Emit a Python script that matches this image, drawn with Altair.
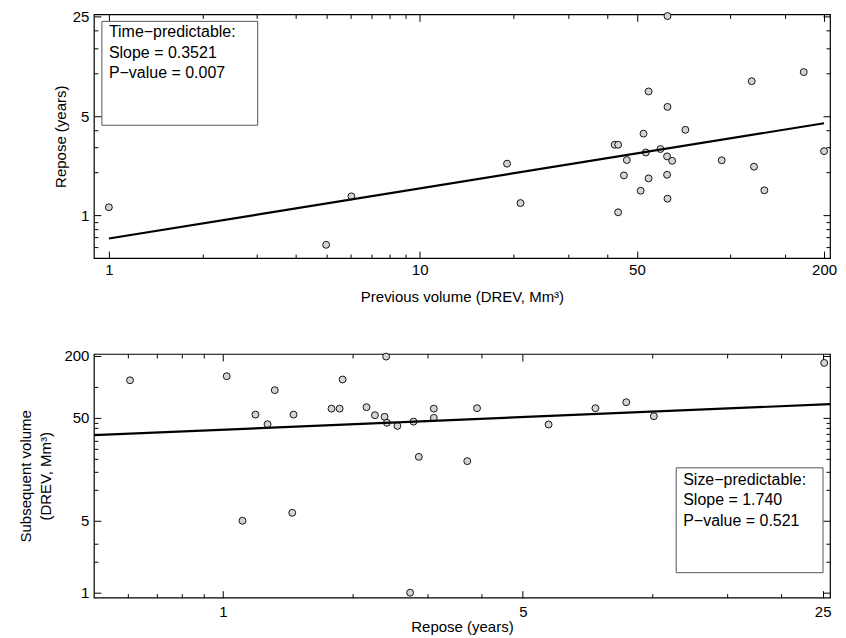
import altair as alt
import pandas as pd

# ---------------- data ----------------
# Top panel: previous volume (x) vs repose (y)
prev_volume = [1, 6.03, 5.0, 62.7, 172, 117, 54.5, 62.7, 71.6, 52.5, 42.4, 43.5, 59.5, 53.4,
               200, 62.5, 46.4, 64.9, 93.7, 19.1, 119, 45.4, 62.5, 54.5, 51.4, 128.5, 21.1, 62.7, 43.5]
repose_top = [1.14, 1.36, 0.62, 25.3, 10.2, 8.8, 7.45, 5.8, 4.0, 3.76, 3.14, 3.14, 2.93, 2.77,
              2.83, 2.60, 2.45, 2.42, 2.44, 2.31, 2.20, 1.91, 1.93, 1.82, 1.49, 1.50, 1.22, 1.31, 1.05]

# Bottom panel: repose (x) vs subsequent volume (y)
repose_bottom = [0.607, 1.02, 1.32, 1.19, 1.27, 1.46, 1.11, 1.45, 1.79, 1.87, 1.90, 2.16, 2.26, 2.38,
                 2.40, 2.41, 2.55, 2.78, 2.73, 2.86, 3.10, 3.10, 3.91, 3.71, 5.74, 7.38, 8.71, 10.1, 25.2]
subsequent_volume = [116, 127, 93, 53.8, 43.4, 53.8, 5.0, 5.98, 61.5, 61.5, 118, 63.5, 53.1, 51.2,
                     197, 44.8, 41.8, 46.0, 1.0, 20.9, 61.5, 50, 62.1, 19.0, 43.1, 62.1, 71, 51.9, 171]

# Fitted lines (end points)
fit_top_x = [1, 200]
fit_top_y = [0.687, 4.45]
fit_bot_x = [0.5, 26]
fit_bot_y = [34, 68]

# Axis domains and tick values
vol_domain = [0.895, 209]
rep_domain = [0.5, 26]
top_x_ticks = [1, 2, 3, 4, 5, 6, 7, 8, 9, 10, 20, 30, 40, 50, 100, 150, 200]
top_x_major = [1, 10, 50, 200]
rep_ticks = [0.6, 0.7, 0.8, 0.9, 1, 2, 3, 4, 5, 10, 15, 20, 25]
rep_major = [1, 5, 25]
bot_y_ticks = [1, 2, 3, 5, 10, 15, 20, 25, 30, 35, 40, 45, 50, 100, 200]
bot_y_major = [1, 5, 50, 200]

top_box_lines = ["Time\u2212predictable:", "Slope = 0.3521", "P\u2212value = 0.007"]
bot_box_lines = ["Size\u2212predictable:", "Slope = 1.740", "P\u2212value = 0.521"]

FONT = "Liberation Sans"
W = 737
H = 244


def major_test(vals):
    return "indexof([" + ",".join(str(v) for v in vals) + "], datum.value) >= 0"


def tick_size(vals):
    return {"condition": {"test": major_test(vals), "value": 7}, "value": 4}


def panel(xvals, yvals, fx, fy, xdom, ydom, xticks, xmajor, yticks, ymajor,
          xtitle, ytitle, x_label_pad, x_title_pad, y_title_pad, box, lines):
    pts = pd.DataFrame({"x": xvals, "y": yvals})
    fit = pd.DataFrame({"x": fx, "y": fy})
    xs = alt.Scale(type="log", domain=xdom, nice=False)
    ys = alt.Scale(type="log", domain=ydom, nice=False)

    label_x = alt.Axis(orient="bottom", values=xmajor, ticks=False, domain=False, grid=False,
                       format="~g", labelFlush=False, labelPadding=x_label_pad, labelFontSize=15,
                       title=xtitle, titleFontSize=15, titlePadding=x_title_pad)
    label_y = alt.Axis(orient="left", values=ymajor, ticks=False, domain=False, grid=False,
                       format="~g", labelFlush=False, labelPadding=5, labelFontSize=15,
                       title=ytitle, titleFontSize=15, titlePadding=y_title_pad,
                       titleLineHeight=20)

    points = alt.Chart(pts).mark_circle(
        color="#d4d4d4", stroke="black", strokeWidth=0.9, opacity=1, size=48
    ).encode(
        x=alt.X("x:Q", scale=xs, axis=label_x),
        y=alt.Y("y:Q", scale=ys, axis=label_y),
    )

    # inward ticks on bottom edge and left edge
    line = alt.Chart(fit).mark_line(color="black", strokeWidth=2.2).encode(
        x=alt.X("x:Q", scale=xs, axis=alt.Axis(
            orient="top", offset=-H, values=xticks, labels=False, domain=False, grid=False,
            title=None, tickColor="black", tickSize=tick_size(xmajor))),
        y=alt.Y("y:Q", scale=ys, axis=alt.Axis(
            orient="right", offset=-W, values=yticks, labels=False, domain=False, grid=False,
            title=None, tickColor="black", tickSize=tick_size(ymajor))),
    )

    # inward ticks on top edge and right edge
    ghost = alt.Chart(pts).mark_point(opacity=0).encode(
        x=alt.X("x:Q", scale=xs, axis=alt.Axis(
            orient="bottom", offset=-H, values=xticks, labels=False, domain=False, grid=False,
            title=None, tickColor="black", tickSize=tick_size(xmajor))),
        y=alt.Y("y:Q", scale=ys, axis=alt.Axis(
            orient="left", offset=-W, values=yticks, labels=False, domain=False, grid=False,
            title=None, tickColor="black", tickSize=tick_size(ymajor))),
    )

    one = pd.DataFrame({"a": [0]})
    x0, x1, y0, y1, tx, ty = box
    rect = alt.Chart(one).mark_rect(fill="white", stroke="#555555", strokeWidth=1).encode(
        x=alt.value(x0), x2=alt.value(x1), y=alt.value(y0), y2=alt.value(y1))
    text = alt.Chart(one).mark_text(
        align="left", baseline="top", fontSize=16, font=FONT, lineHeight=20.5, color="black"
    ).encode(x=alt.value(tx), y=alt.value(ty), text=alt.value(lines))

    return alt.layer(points, line, ghost, rect, text).resolve_scale(
        x="independent", y="independent").properties(width=W, height=H)


top = panel(prev_volume, repose_top, fit_top_x, fit_top_y, vol_domain, rep_domain,
            top_x_ticks, top_x_major, rep_ticks, rep_major,
            "Previous volume (DREV, Mm\u00b3)", "Repose (years)", 4, 12, 4,
            (8, 164, 7, 111, 15, 10), top_box_lines)

bottom = panel(repose_bottom, subsequent_volume, fit_bot_x, fit_bot_y, rep_domain, vol_domain,
               rep_ticks, rep_major, bot_y_ticks, bot_y_major,
               "Repose (years)", ["Subsequent volume", "(DREV, Mm\u00b3)"], 7, 0, 10,
               (583, 730, 114, 219, 590, 118), bot_box_lines)

chart = alt.vconcat(top, bottom, spacing=43).properties(
    padding={"left": 10, "top": 0, "right": 0, "bottom": 0}
).configure_view(
    stroke="black", strokeWidth=1.2
).configure_axis(
    labelFont=FONT, titleFont=FONT, labelColor="black", titleColor="black",
    titleFontWeight="normal"
)

chart.save("out.html", embed_options={"renderer": "svg", "actions": False})
